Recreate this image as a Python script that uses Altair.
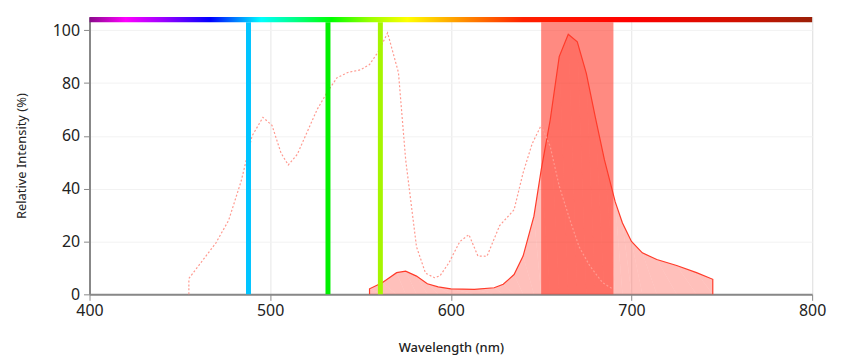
import altair as alt
import pandas as pd

# Excitation spectrum (dotted)
ex_nm = [455, 455, 470, 477, 484, 490, 496, 501, 506, 510, 515, 526, 532, 537, 543, 550, 555, 560, 565, 571, 575, 581, 586, 591, 594, 599, 605, 610, 615, 620, 627, 635, 640, 645, 650, 655, 660, 666, 671, 677, 684, 690]
ex_v = [0, 6, 19.5, 28, 43, 60, 67, 64, 53.5, 49, 53, 70, 77, 82, 84, 85, 87, 92, 99, 84, 51, 18, 8, 6.3, 7, 12, 20, 22.6, 14.5, 14.4, 26, 32, 46, 57, 64, 56, 41, 28, 18, 10.7, 4.4, 1.9]

# Emission spectrum (filled)
em_nm = [555, 555, 562, 570, 575, 581, 587, 593, 600, 613, 624, 629, 635, 640, 646, 650, 655, 660, 665, 670, 675, 680, 685, 691, 695, 700, 706, 714, 725, 736, 745, 745]
em_v = [0, 2.1, 4.4, 8.2, 8.8, 6.9, 4, 2.8, 2.1, 1.9, 2.5, 3.8, 7.5, 14.5, 29.6, 47, 66, 90, 98.5, 95.6, 83.7, 67, 51, 35, 27, 20, 15.7, 13.2, 10.9, 8.2, 5.7, 0]

# Laser lines
laser_nm = [488, 532, 561]
laser_color = ["#00c4ff", "#00f000", "#a6f500"]

# Filter band
filter_lo = [650]
filter_hi = [690]

# Spectrum bar gradient stops (wavelength, colour)
spec_nm = [400, 420, 440, 467, 495, 515, 534, 555, 576, 611, 640, 700, 760, 800]
spec_col = ["#8a0a8a", "#ff00ff", "#a000ff", "#0000ff", "#00ffff", "#00ff80", "#00ff00", "#99ff00", "#ffff00", "#ff8000", "#ff2000", "#ff0000", "#d01000", "#9a2008"]

ex_df = pd.DataFrame({"nm": ex_nm, "v": ex_v, "i": range(len(ex_nm))})
em_df = pd.DataFrame({"nm": em_nm, "v": em_v, "i": range(len(em_nm))})
laser_df = pd.DataFrame({"nm": laser_nm, "c": laser_color, "lo": [0] * 3, "hi": [103] * 3})
filt_df = pd.DataFrame({"lo": filter_lo, "hi": filter_hi, "y0": [0], "y1": [103]})
bar_df = pd.DataFrame({"a": [400], "b": [800], "y0": [103], "y1": [105]})

FONT = "Noto Sans"
xscale = alt.Scale(domain=[400, 800], nice=False, zero=False)
yscale = alt.Scale(domain=[0, 105], nice=False)

xaxis = alt.Axis(values=[400, 500, 600, 700, 800], title="Wavelength (nm)", grid=True,
                 gridColor="#e6e6e6", labelFontSize=16, labelColor="#222", labelFont=FONT,
                 labelFlush=False, labelOverlap=False,
                 titleFont=FONT, titleFontSize=13, titleFontWeight=500, titleColor="#222",
                 titlePadding=24, domainColor="#888", domainWidth=2, tickColor="#888",
                 tickSize=6, labelPadding=2)
yaxis = alt.Axis(values=list(range(0, 101, 10)), title="Relative Intensity (%)", grid=True,
                 gridColor="#f2f2f2", labelExpr="datum.value % 20 == 0 ? datum.label : ''",
                 labelFontSize=16, labelColor="#222", labelFont=FONT, titleFont=FONT,
                 labelFlush=False, labelOverlap=False,
                 titleFontSize=13, titleFontWeight="normal", titleColor="#222", titlePadding=24,
                 domainColor="#888", domainWidth=2, tickColor="#888", tickSize=6, labelPadding=4)

stops = [alt.GradientStop(offset=(n - 400) / 400, color=c) for n, c in zip(spec_nm, spec_col)]

bar = alt.Chart(bar_df).mark_rect(
    color=alt.Gradient(gradient="linear", stops=stops, x1=0, x2=1, y1=0, y2=0)
).encode(
    x=alt.X("a:Q", scale=xscale, axis=xaxis),
    x2="b:Q",
    y=alt.Y("y0:Q", scale=yscale, axis=yaxis),
    y2="y1:Q",
)

filt = alt.Chart(filt_df).mark_rect(color="#ff2a1a", opacity=0.55).encode(
    x="lo:Q", x2="hi:Q", y="y0:Q", y2="y1:Q"
)

em_area = alt.Chart(em_df).mark_area(color="#ff3b2a", opacity=0.32).encode(
    x="nm:Q", y="v:Q", order="i:Q"
)
em_line = alt.Chart(em_df).mark_line(color="#ff3b2a", strokeWidth=1.2).encode(
    x="nm:Q", y="v:Q", order="i:Q"
)

ex_line = alt.Chart(ex_df).mark_line(color="#ff9a90", strokeWidth=1.2, strokeDash=[2, 2]).encode(
    x="nm:Q", y="v:Q", order="i:Q"
)

lasers = alt.Chart(laser_df).mark_rule(strokeWidth=5).encode(
    x="nm:Q", y="lo:Q", y2="hi:Q", color=alt.Color("c:N", scale=None)
)

chart = alt.layer(bar, filt, em_area, em_line, ex_line, lasers).properties(
    width=727, height=279
).configure_view(stroke="#888", strokeWidth=1.5).configure(padding={"left": 7, "top": 8, "right": 10, "bottom": 5})

chart.save("out.html", embed_options={"renderer": "svg", "actions": False})
